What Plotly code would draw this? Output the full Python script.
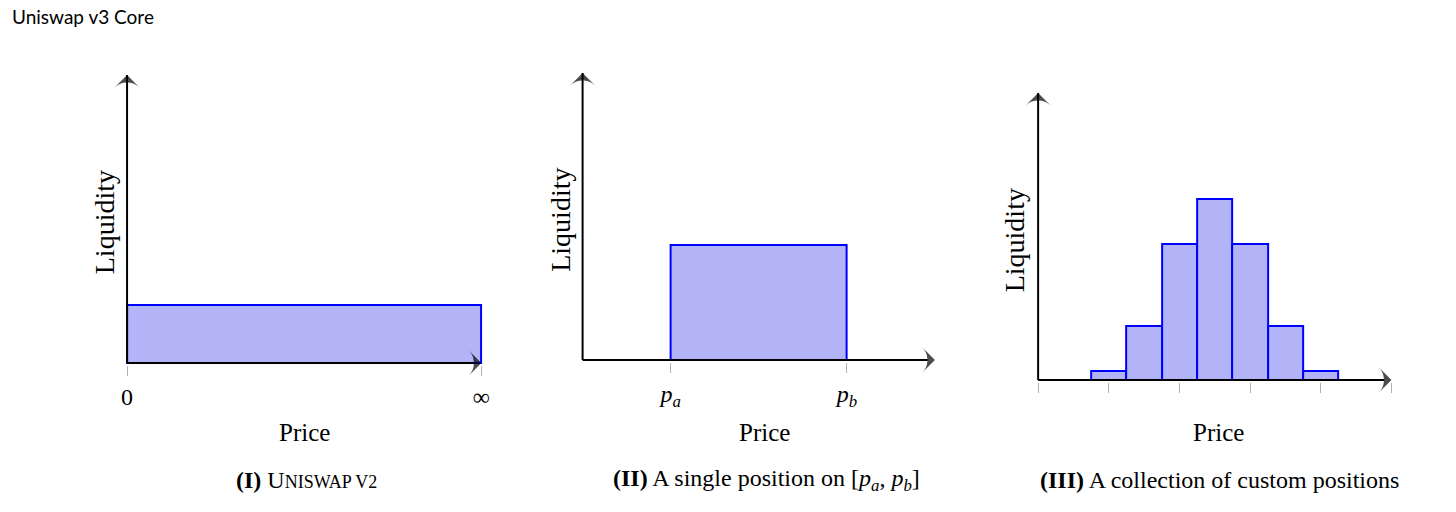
import plotly.graph_objects as go

# ---------------- data ----------------
# Panel I: Uniswap v2 – one position over the whole price range
v2_left = [0.0]
v2_right = [1.0]
v2_liquidity = [0.2]
v2_ticks = [0.0, 1.0]
v2_ticklabels = ["0", "∞"]

# Panel II: a single position on [pa, pb]
single_left = [1.0]
single_right = [3.0]
single_liquidity = [0.4]
single_ticks = [1.0, 3.0]
single_ticklabels = ["<i>p</i><sub><i>a</i></sub>", "<i>p</i><sub><i>b</i></sub>"]

# Panel III: collection of custom positions
custom_left = [0.75, 1.25, 1.75, 2.25, 2.75, 3.25, 3.75]
custom_right = [1.25, 1.75, 2.25, 2.75, 3.25, 3.75, 4.25]
custom_liquidity = [0.1, 0.6, 1.5, 2.0, 1.5, 0.6, 0.1]
custom_ticks = [0, 1, 2, 3, 4, 5]

panel_xmax = [1.0, 4.0, 5.0]
panel_ymax = [1.0, 1.0, 3.165]
captions = [
    "<b>(I)</b> U<span style='font-size:18px'>NISWAP V2</span>",
    "<b>(II)</b> A single position on [<i>p</i><sub><i>a</i></sub>, <i>p</i><sub><i>b</i></sub>]",
    "<b>(III)</b> A collection of custom positions",
]

# ---------------- layout geometry (pixels) ----------------
W, H = 1456, 512
px_x = [(124, 481), (583, 938), (1042, 1398)]
px_y = [(363, 75), (360, 73), (380, 93)]
PAD = 2  # px of plot area kept around the axis lines so they are not clipped

SERIF = "Liberation Serif, DejaVu Serif, serif"
FILL = "rgb(179,179,248)"
EDGE = "rgb(0,0,255)"

fig = go.Figure()

panels = [
    (v2_left, v2_right, v2_liquidity, v2_ticks, v2_ticklabels),
    (single_left, single_right, single_liquidity, single_ticks, single_ticklabels),
    (custom_left, custom_right, custom_liquidity, custom_ticks, None),
]

annotations = []
for i, (lefts, rights, liq, tv, tt) in enumerate(panels):
    xa = "x" if i == 0 else f"x{i+1}"
    ya = "y" if i == 0 else f"y{i+1}"
    centers = [(l + r) / 2 for l, r in zip(lefts, rights)]
    widths = [r - l for l, r in zip(lefts, rights)]
    fig.add_trace(go.Bar(
        x=centers, y=liq, width=widths, xaxis=xa, yaxis=ya,
        marker=dict(color=FILL, line=dict(color=EDGE, width=2)),
        showlegend=False, hoverinfo="skip",
    ))
    xm, ym = panel_xmax[i], panel_ymax[i]
    # axes drawn as lines ending with an arrow head
    for ax_x, ax_y in (([0, xm], [0, 0]), ([0, 0], [0, ym])):
        fig.add_trace(go.Scatter(
            x=ax_x, y=ax_y, xaxis=xa, yaxis=ya, mode="lines+markers",
            line=dict(color="black", width=2),
            marker=dict(symbol="arrow-wide", size=[0, 18], angleref="previous",
                        color="black", line=dict(width=0)),
            cliponaxis=False, showlegend=False, hoverinfo="skip",
        ))
    (x0, x1), (yb, yt) = px_x[i], px_y[i]
    ux = xm / (x1 - x0)
    uy = ym / (yb - yt)
    key = "" if i == 0 else str(i + 1)
    xaxis = dict(
        domain=[(x0 - PAD) / W, (x1 + PAD) / W], range=[-PAD * ux, xm + PAD * ux], anchor=ya,
        showgrid=False, zeroline=False, showline=False,
        ticks="outside", ticklen=12 - PAD, tickwidth=1, tickcolor="#b0b0b0",
        tickvals=tv, tickfont=dict(family=SERIF, size=24, color="black"),
        fixedrange=True,
    )
    if tt is None:
        xaxis["showticklabels"] = False
    else:
        xaxis["ticktext"] = tt
    fig.layout["xaxis" + key] = xaxis
    fig.layout["yaxis" + key] = dict(
        domain=[1 - (yb + PAD) / H, 1 - (yt - PAD) / H], range=[-PAD * uy, ym + PAD * uy],
        anchor=xa, showgrid=False, zeroline=False, showline=False, showticklabels=False,
        ticks="", fixedrange=True,
    )

price_x = [303, 766, 1224]
caption_x = [305, 768, 1225]
liq_x = [101, 560, 1018]
liq_y = [222, 220, 240]
for i in range(3):
    annotations.append(dict(x=price_x[i] / W, y=1 - 432 / H, xref="paper", yref="paper",
                            text="Price", showarrow=False, xanchor="center", yanchor="middle",
                            font=dict(family=SERIF, size=25, color="black")))
    annotations.append(dict(x=caption_x[i] / W, y=1 - 480 / H, xref="paper", yref="paper",
                            text=captions[i], showarrow=False, xanchor="center", yanchor="middle",
                            font=dict(family=SERIF, size=24, color="black")))
    annotations.append(dict(x=liq_x[i] / W, y=1 - liq_y[i] / H, xref="paper", yref="paper",
                            text="Liquidity", showarrow=False, textangle=-90,
                            xanchor="center", yanchor="middle",
                            font=dict(family=SERIF, size=28, color="black")))

annotations.append(dict(x=6 / W, y=1 - 16 / H, xref="paper", yref="paper",
                        text="Uniswap v3 Core", showarrow=False, xanchor="left", yanchor="middle",
                        font=dict(family="Lato, Open Sans, sans-serif", size=19, color="black")))

fig.update_layout(
    width=W, height=H, margin=dict(l=0, r=0, t=0, b=0),
    paper_bgcolor="white", plot_bgcolor="white",
    annotations=annotations, bargap=0,
)

fig.write_html("out.html", config={"displayModeBar": False},
               post_script="document.body.style.margin='0px';document.body.style.overflow='hidden';")
